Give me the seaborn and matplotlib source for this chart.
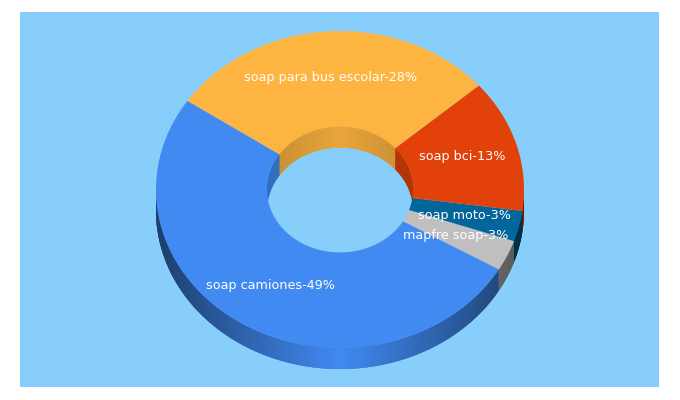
import numpy as np
import seaborn as sns
import matplotlib
matplotlib.use("Agg")
import matplotlib.pyplot as plt
from matplotlib.patches import Polygon

# slices in pie order, counterclockwise from the blue/yellow border
names = ["soap camiones", "mapfre soap", "soap moto", "soap bci", "soap para bus escolar"]
shares = [49, 3, 3, 13, 28]
slice_colors = ["#418AF2", "#BFBFBF", "#02669A", "#E2420A", "#FDB441"]
panel_color = "#87CEFA"

W, H = 680, 400
cx, cy = 340, 189.5   # centre of the top face, pixels
rx, ry = 184, 158.5   # radii of the top face, pixels
depth = 21 / ry
hole = 0.397
start = 146

sns.set_theme(style="white")
plt.rcParams["font.family"] = ["DejaVu Sans"]
palette = sns.color_palette(slice_colors)

fig = plt.figure(figsize=(W / 100, H / 100), dpi=100, facecolor="white")
ax = fig.add_axes([20 / W, (H - 387) / H, 639 / W, 375 / H])

wedges, _ = ax.pie(shares, colors=palette, startangle=start, counterclock=True,
                   radius=1, wedgeprops=dict(width=1 - hole, linewidth=0, zorder=5))
ax.set_aspect("auto")
ax.set_frame_on(True)
ax.set_facecolor(panel_color)
ax.set_xlim((20 - cx) / rx, (659 - cx) / rx)
ax.set_ylim((cy - 387) / ry, (cy - 12) / ry)
ax.set_xticks([])
ax.set_yticks([])
sns.despine(ax=ax, left=True, bottom=True)

# slice borders in degrees, taken from the values
edges = start + np.concatenate([[0], np.cumsum(shares)]) / sum(shares) * 360


def slice_at(deg):
    d = (deg - start) % 360 + start
    return min(np.searchsorted(edges, d, side="right") - 1, len(shares) - 1)


def wall(radius, a0, a1, shade, step=0.5):
    # strips overlap the next one and get painted in order, so no seams show
    for a in np.arange(a0, a1, step):
        t = np.radians(np.linspace(a, min(a + 3 * step, a1), 4))
        x, y = radius * np.cos(t), radius * np.sin(t)
        pts = np.r_[np.c_[x, y], np.c_[x, y - depth][::-1]]
        mid = a + step / 2
        col = np.array(palette[slice_at(mid)]) * shade(abs(np.cos(np.radians(mid))))
        ax.add_patch(Polygon(pts, closed=True, facecolor=tuple(col), linewidth=0, zorder=2))


# outer rim on the lower half, back wall of the hole on the upper half
wall(1, 180, 360, lambda c: 1 - 0.55 * c)
wall(hole, 0, 180, lambda c: 0.92 - 0.14 * c)

# labels, pixel centres
label_pos = [(271, 285), (456, 236), (465, 216), (462, 157), (331, 78)]
for name, share, (px, py) in zip(names, shares, label_pos):
    ax.text((px - cx) / rx, (cy - py) / ry, f"{name}-{share}%", color="white",
            fontsize=9.15, ha="center", va="center", zorder=10)

fig.savefig("out.png", dpi=100)
